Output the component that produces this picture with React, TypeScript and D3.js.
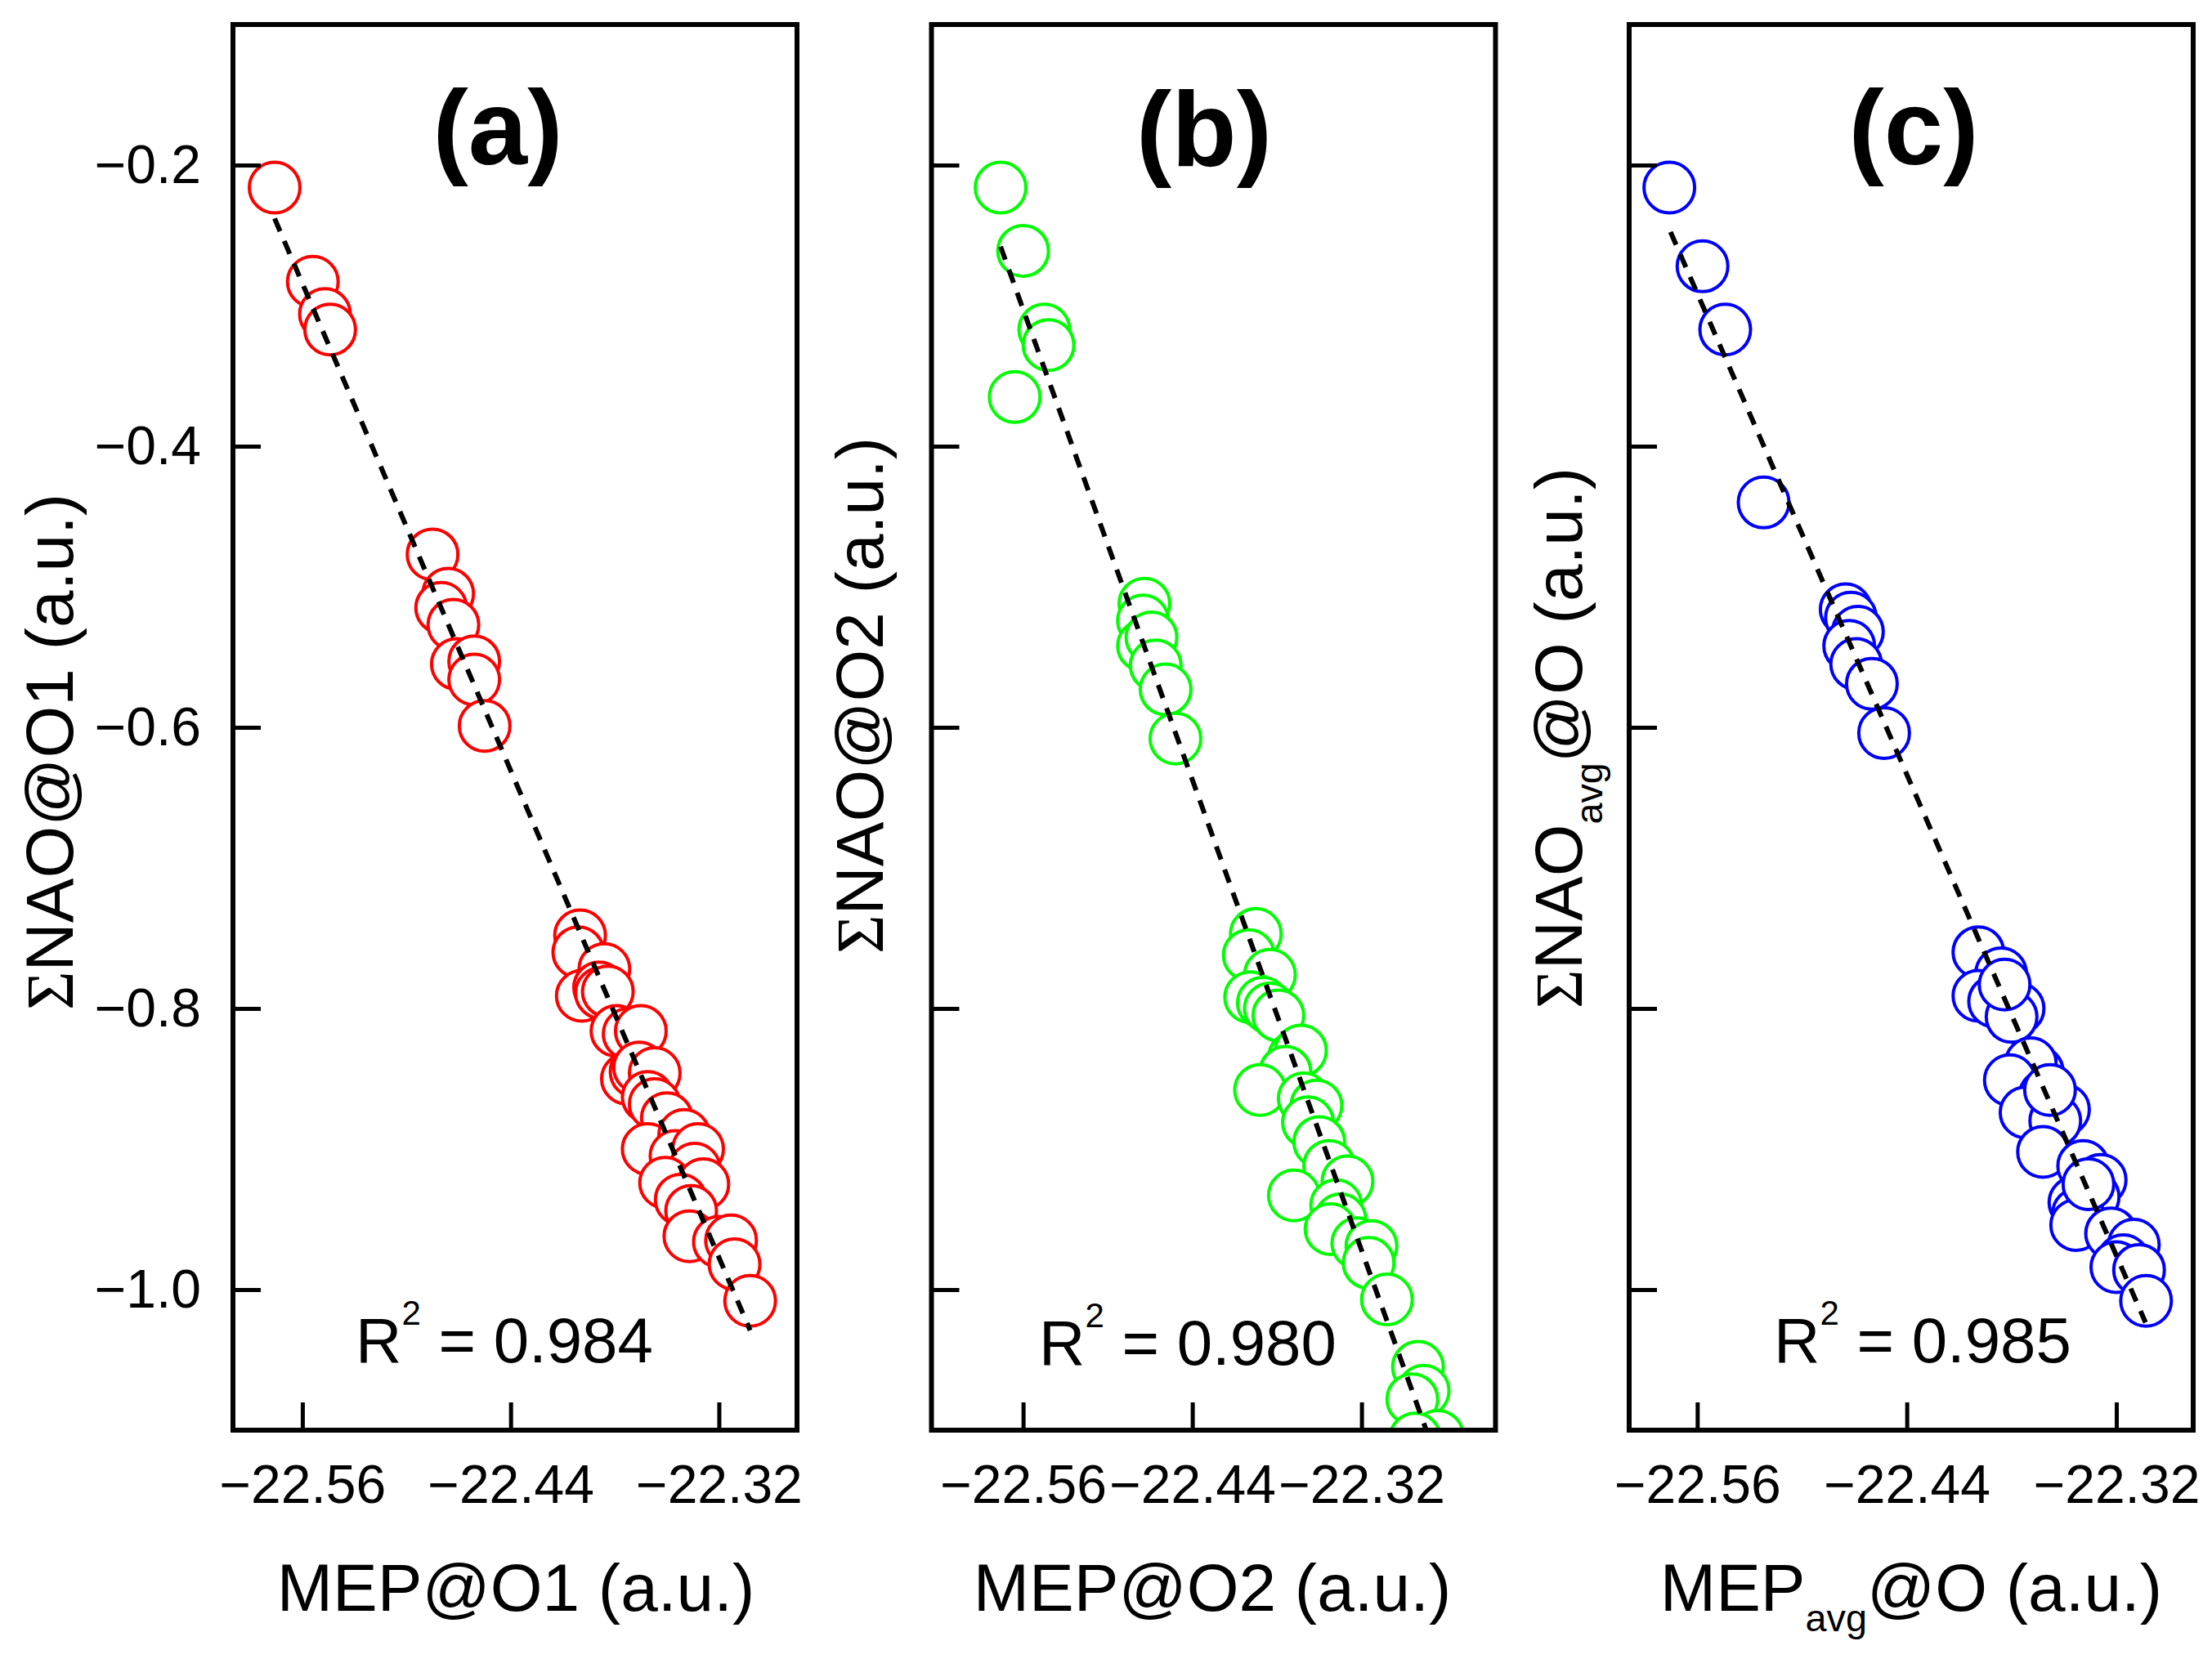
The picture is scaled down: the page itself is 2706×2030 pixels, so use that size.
import { useEffect, useRef } from 'react';
import * as d3 from 'd3';

// Panel (a): MEP@O1 vs ΣNAO@O1
const xA = [
  -22.576, -22.554, -22.547, -22.544,
  -22.485, -22.476, -22.48, -22.473, -22.471, -22.461, -22.461, -22.455,
  -22.4, -22.401, -22.386, -22.399, -22.389, -22.388, -22.384, -22.379, -22.372, -22.365,
  -22.373, -22.368, -22.366, -22.357, -22.361, -22.357, -22.35, -22.361, -22.34, -22.345,
  -22.332, -22.334, -22.351, -22.329, -22.342, -22.336, -22.337, -22.32, -22.313, -22.311, -22.302,
];
const yA = [
  -0.216, -0.283, -0.306, -0.317,
  -0.477, -0.505, -0.515, -0.527, -0.555, -0.553, -0.566, -0.599,
  -0.748, -0.76, -0.772, -0.791, -0.785, -0.789, -0.788, -0.816, -0.818, -0.816,
  -0.85, -0.845, -0.842, -0.846, -0.863, -0.868, -0.878, -0.9, -0.89, -0.905,
  -0.9, -0.914, -0.924, -0.925, -0.936, -0.944, -0.962, -0.966, -0.965, -0.982, -1.008,
];

// Panel (b): MEP@O2 vs ΣNAO@O2
const xB = [
  -22.576, -22.56, -22.545, -22.542, -22.566,
  -22.474, -22.475, -22.475, -22.469, -22.466, -22.459, -22.452,
  -22.395, -22.4, -22.385, -22.399, -22.39, -22.385, -22.379, -22.368, -22.363, -22.374,
  -22.392, -22.361, -22.352, -22.358, -22.35, -22.343, -22.33, -22.368, -22.338, -22.335,
  -22.342, -22.323, -22.313, -22.315, -22.302, -22.28, -22.276, -22.284, -22.266, -22.282,
];
const yB = [
  -0.216, -0.261, -0.317, -0.328, -0.365,
  -0.512, -0.524, -0.542, -0.536, -0.556, -0.573, -0.608,
  -0.747, -0.762, -0.776, -0.792, -0.796, -0.8, -0.805, -0.835, -0.83, -0.845,
  -0.858, -0.864, -0.869, -0.881, -0.895, -0.912, -0.923, -0.933, -0.94, -0.95,
  -0.957, -0.967, -0.969, -0.981, -1.007, -1.055, -1.072, -1.078, -1.104, -1.106,
];

// Panel (c): MEPavg@O vs ΣNAOavg@O
const xC = [
  -22.576, -22.557, -22.544, -22.522,
  -22.475, -22.472, -22.468, -22.473, -22.469, -22.46, -22.453,
  -22.399, -22.386, -22.399, -22.39, -22.376, -22.38, -22.365, -22.369, -22.381, -22.361,
  -22.372, -22.35, -22.355, -22.362, -22.339, -22.329, -22.333, -22.344, -22.342, -22.343,
  -22.323, -22.31, -22.316, -22.32, -22.307, -22.303, -22.384, -22.358, -22.336,
];
const yC = [
  -0.216, -0.272, -0.317, -0.44,
  -0.516, -0.522, -0.532, -0.542, -0.555, -0.569, -0.604,
  -0.76, -0.775, -0.791, -0.795, -0.8, -0.806, -0.845, -0.839, -0.851, -0.862,
  -0.874, -0.872, -0.88, -0.902, -0.912, -0.922, -0.934, -0.938, -0.946, -0.954,
  -0.96, -0.968, -0.979, -0.984, -0.986, -1.008, -0.783, -0.858, -0.925,
];

// Linear fit end points
const fitXA = [-22.576, -22.302];
const fitYA = [-0.238, -1.029];
const fitXB = [-22.576, -22.266];
const fitYB = [-0.258, -1.1226];
const fitXC = [-22.5753, -22.3033];
const fitYC = [-0.2476, -1.0234];

const r2Values = ['0.984', '0.980', '0.985'];
const panelTags = ['(a)', '(b)', '(c)'];
const xDomains = [[-22.6, -22.275], [-22.625, -22.225], [-22.599, -22.276]];
const yDomain = [-1.1, -0.1];
const xTickValues = [-22.56, -22.44, -22.32];
const yTickValues = [-0.2, -0.4, -0.6, -0.8, -1.0];
const colors = ['#ff0000', '#00ff00', '#0000ff'];

type Part = { t: string; sub?: boolean; serif?: boolean };
const xTitles: Part[][] = [
  [{ t: 'MEP@O1 (a.u.)' }],
  [{ t: 'MEP@O2 (a.u.)' }],
  [{ t: 'MEP' }, { t: 'avg', sub: true }, { t: '@O (a.u.)' }],
];
const yTitles: Part[][] = [
  [{ t: 'Σ', serif: true }, { t: 'NAO@O1 (a.u.)' }],
  [{ t: 'Σ', serif: true }, { t: 'NAO@O2 (a.u.)' }],
  [{ t: 'Σ', serif: true }, { t: 'NAO' }, { t: 'avg', sub: true }, { t: '@O (a.u.)' }],
];

const FONT = '"Liberation Sans", Arial, sans-serif';

export default function App() {
  const svgRef = useRef<SVGSVGElement>(null);

  useEffect(() => {
    if (!svgRef.current) return;
    const svg = d3.select(svgRef.current);
    svg.selectAll('*').remove();

    const top = 30;
    const bottom = 1750;
    const lefts = [285, 1139.5, 1993];
    const plotW = 690;
    const tagPos = [[609, 201], [1473, 203], [2341, 201]];
    const r2Pos = [[617, 1667], [1453, 1670], [2352, 1667]];
    const xTitlePos = [[631, 1971], [1483, 1971], [2338, 1971]];
    const yTitlePos = [[89, 920], [1080, 851], [1935, 903]];

    const xs = [xA, xB, xC];
    const ys = [yA, yB, yC];
    const fits = [[fitXA, fitYA], [fitXB, fitYB], [fitXC, fitYC]];

    const yScale = d3.scaleLinear().domain(yDomain).range([bottom, top]);
    const minus = (s: string) => s.replace('-', '\u2212');

    const writeParts = (
      sel: d3.Selection<SVGTextElement, unknown, null, undefined>,
      parts: Part[],
      size: number,
    ) => {
      let shifted = false;
      parts.forEach(p => {
        const ts = sel.append('tspan').text(p.t);
        if (p.serif) ts.style('font-family', '"Liberation Serif", "Times New Roman", serif');
        if (p.sub) {
          ts.style('font-size', `${size * 0.57}px`).attr('dy', size * 0.3);
          shifted = true;
        } else if (shifted) {
          ts.attr('dy', -size * 0.3);
          shifted = false;
        }
      });
    };

    lefts.forEach((left, i) => {
      const xScale = d3.scaleLinear().domain(xDomains[i]).range([left, left + plotW]);
      const g = svg.append('g');

      const clipId = `clip-${i}`;
      svg.append('clipPath').attr('id', clipId)
        .append('rect')
        .attr('x', left).attr('y', top)
        .attr('width', plotW).attr('height', bottom - top);

      // Points
      const pts = xs[i].map((x, k) => ({ x, y: ys[i][k] }));
      g.append('g')
        .attr('clip-path', `url(#${clipId})`)
        .selectAll('circle')
        .data(pts)
        .enter()
        .append('circle')
        .attr('cx', d => xScale(d.x))
        .attr('cy', d => yScale(d.y))
        .attr('r', 31)
        .attr('fill', '#fff')
        .attr('stroke', colors[i])
        .attr('stroke-width', 4);

      // Fit line
      const [fx, fy] = fits[i];
      g.append('line')
        .attr('clip-path', `url(#${clipId})`)
        .attr('x1', xScale(fx[0])).attr('y1', yScale(fy[0]))
        .attr('x2', xScale(fx[1])).attr('y2', yScale(fy[1]))
        .attr('stroke', '#000')
        .attr('stroke-width', 6)
        .attr('stroke-dasharray', '17 13');

      // Frame
      g.append('rect')
        .attr('x', left).attr('y', top)
        .attr('width', plotW).attr('height', bottom - top)
        .attr('fill', 'none')
        .attr('stroke', '#000')
        .attr('stroke-width', 6);

      // X axis (ticks inward)
      const xAxis = d3.axisBottom(xScale)
        .tickValues(xTickValues)
        .tickFormat(d => minus(d3.format('.2f')(d as number)))
        .tickSize(-34)
        .tickPadding(42);
      const xg = g.append('g')
        .attr('transform', `translate(0,${bottom})`)
        .call(xAxis);
      xg.select('.domain').remove();
      xg.selectAll('line').attr('stroke', '#000').attr('stroke-width', 5);
      xg.selectAll('text')
        .attr('fill', '#000')
        .style('font-family', FONT)
        .style('font-size', '66px');

      // Y axis (ticks inward, labels only on first panel)
      const yAxis = d3.axisLeft(yScale)
        .tickValues(yTickValues)
        .tickFormat(d => (i === 0 ? minus(d3.format('.1f')(d as number)) : ''))
        .tickSize(-34)
        .tickPadding(39);
      const yg = g.append('g')
        .attr('transform', `translate(${left},0)`)
        .call(yAxis);
      yg.select('.domain').remove();
      yg.selectAll('line').attr('stroke', '#000').attr('stroke-width', 5);
      yg.selectAll('text')
        .attr('fill', '#000')
        .style('font-family', FONT)
        .style('font-size', '66px');

      // Panel tag
      g.append('text')
        .attr('x', tagPos[i][0]).attr('y', tagPos[i][1])
        .attr('text-anchor', 'middle')
        .style('font-family', FONT)
        .style('font-weight', 'bold')
        .style('font-size', '130px')
        .text(panelTags[i]);

      // R^2 annotation
      const r2 = g.append('text')
        .attr('x', r2Pos[i][0]).attr('y', r2Pos[i][1])
        .attr('text-anchor', 'middle')
        .style('font-family', FONT)
        .style('font-size', '78px');
      r2.append('tspan').text('R');
      r2.append('tspan').text('2').attr('dy', -46).style('font-size', '42px');
      r2.append('tspan').text(` = ${r2Values[i]}`).attr('dy', 46);

      // Axis titles
      const xt = g.append('text')
        .attr('x', xTitlePos[i][0]).attr('y', xTitlePos[i][1])
        .attr('text-anchor', 'middle')
        .style('font-family', FONT)
        .style('font-size', '82px');
      writeParts(xt, xTitles[i], 82);

      const yt = g.append('text')
        .attr('transform', `translate(${yTitlePos[i][0]},${yTitlePos[i][1]}) rotate(-90)`)
        .attr('text-anchor', 'middle')
        .style('font-family', FONT)
        .style('font-size', '82px');
      writeParts(yt, yTitles[i], 82);
    });
  }, []);

  return (
    <svg
      ref={svgRef}
      width={2706}
      height={2030}
      style={{ position: 'absolute', left: 0, top: 0, background: '#fff' }}
    />
  );
}
